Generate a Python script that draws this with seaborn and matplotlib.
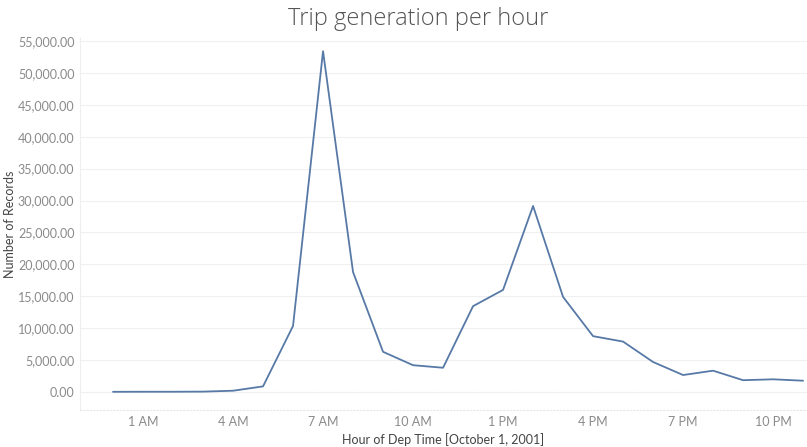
import matplotlib
matplotlib.use("Agg")
import matplotlib.pyplot as plt
import seaborn as sns
import pandas as pd
from matplotlib.ticker import FuncFormatter, FixedLocator

hours = list(range(24))
records = [30, 40, 40, 60, 200, 880, 10350, 53400, 18800, 6300, 4200, 3800,
           13450, 16000, 29150, 14900, 8750, 7900, 4700, 2660, 3340, 1850, 1990, 1770]
tick_hours = [1, 4, 7, 10, 13, 16, 19, 22]
tick_labels = ["1 AM", "4 AM", "7 AM", "10 AM", "1 PM", "4 PM", "7 PM", "10 PM"]

df = pd.DataFrame({"hour": hours, "records": records})

sns.set_style("white")
plt.rcParams["font.family"] = ["Lato", "DejaVu Sans"]

fig = plt.figure(figsize=(8.07, 4.47), dpi=100)
ax = fig.add_axes([80/807, 1 - 410/447, 727/807, (410 - 38)/447])

sns.lineplot(data=df, x="hour", y="records", ax=ax, color="#5779a6", linewidth=1.3)

ax.set_xlim(-1.1, 23.13)
ax.set_ylim(-2820, 55470)
ax.yaxis.set_major_locator(FixedLocator(list(range(0, 55001, 5000))))
ax.yaxis.set_major_formatter(FuncFormatter(lambda v, p: f"{v:,.2f}"))
ax.set_xticks(tick_hours)
ax.set_xticklabels(tick_labels)

ax.grid(axis="y", color="#f0f0f0", linewidth=0.8)
ax.axhline(0, color="#e0e0e0", linewidth=0.8, linestyle=(0, (1, 2)), zorder=0)
for s in ["top", "right"]:
    ax.spines[s].set_visible(False)
ax.spines["left"].set_color("#eeeeee")
ax.spines["bottom"].set_color("#e6e6e6")
ax.spines["bottom"].set_linestyle((0, (1, 2)))

ax.tick_params(axis="both", length=0, labelsize=9, colors="#8a8a8a", pad=4)
ax.set_xlabel("Hour of Dep Time [October 1, 2001]", fontsize=9, color="#444444", labelpad=4)
ax.set_ylabel("Number of Records", fontsize=9, color="#444444")
ax.yaxis.set_label_coords(-0.088, 0.5)
fig.suptitle("Trip generation per hour", fontsize=17, color="#555555", x=0.518, y=0.985,
             family=["Open Sans", "DejaVu Sans"], fontweight="light")

fig.savefig("out.png", dpi=100)
